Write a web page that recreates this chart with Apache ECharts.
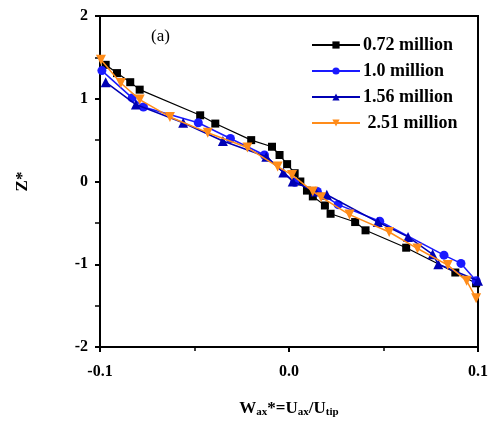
<!DOCTYPE html>
<html><head><meta charset="utf-8">
<script src="https://cdn.jsdelivr.net/npm/echarts@6/dist/echarts.min.js"></script>
<style>html,body{margin:0;padding:0;background:#fff}#c{width:491px;height:423px}</style>
</head><body><div id="c"></div>
<script>
const seriesNames = ['0.72 million', '1.0 million', '1.56 million', ' 2.51 million'];
const s072 = [[-0.097,1.41],[-0.091,1.31],[-0.084,1.20],[-0.079,1.11],[-0.047,0.80],[-0.039,0.70],[-0.020,0.50],[-0.009,0.42],[-0.005,0.32],[-0.001,0.21],[0.003,0.10],[0.006,0.0],[0.0095,-0.11],[0.0126,-0.18],[0.019,-0.29],[0.022,-0.39],[0.035,-0.49],[0.0405,-0.59],[0.062,-0.80],[0.088,-1.10],[0.099,-1.23]];
const s100 = [[-0.099,1.34],[-0.083,1.01],[-0.077,0.90],[-0.048,0.71],[-0.031,0.52],[-0.013,0.32],[0.003,-0.01],[0.015,-0.12],[0.026,-0.28],[0.048,-0.48],[0.082,-0.89],[0.091,-0.99],[0.099,-1.20]];
const s156 = [[-0.097,1.20],[-0.081,0.93],[-0.056,0.71],[-0.035,0.49],[-0.012,0.30],[-0.003,0.11],[0.002,0.0],[0.014,-0.12],[0.020,-0.16],[0.047,-0.49],[0.063,-0.67],[0.076,-0.88],[0.079,-1.0],[0.1,-1.2]];
const s251 = [[-0.0995,1.47],[-0.089,1.19],[-0.079,0.99],[-0.063,0.78],[-0.043,0.59],[-0.022,0.41],[-0.006,0.18],[0.0016,0.08],[0.0126,-0.12],[0.017,-0.19],[0.032,-0.40],[0.053,-0.61],[0.068,-0.81],[0.084,-1.01],[0.094,-1.20],[0.099,-1.41]];
const xTicks = [-0.1, 0.0, 0.1];
const yTicks = [-2, -1, 0, 1, 2];

const font = 'Liberation Serif';
const chart = echarts.init(document.getElementById('c'));
function mk(name, data, color, symbol, size, width, z) {
  return { name, type: 'line', data, symbol, symbolSize: size, z,
    lineStyle: { color, width }, itemStyle: { color }, animation: false };
}
chart.setOption({
  backgroundColor: '#fff',
  animation: false,
  grid: { left: 100, right: 11, top: 16, bottom: 75, show: true, borderColor: '#000', borderWidth: 2 },
  legend: {
    left: 306, top: 31, orient: 'vertical', itemWidth: 48, itemHeight: 9, itemGap: 8,
    textStyle: { fontFamily: font, fontWeight: 'bold', fontSize: 18, color: '#000', padding: [0, 0, 0, -2] },
    data: seriesNames
  },
  graphic: [{ type: 'text', left: 151, top: 28, style: { text: '(a)', font: '17px "Liberation Serif"', fill: '#000' } }],
  xAxis: {
    type: 'value', min: -0.1, max: 0.1, interval: 0.1,
    axisLine: { onZero: false, lineStyle: { color: '#000', width: 2 } },
    axisTick: { length: 5, lineStyle: { width: 2 } },
    minorTick: { show: true, splitNumber: 2, length: 4, lineStyle: { color: '#000', width: 1.5 } },
    splitLine: { show: false },
    axisLabel: { color: '#000', fontFamily: font, fontWeight: 'bold', fontSize: 16, margin: 17,
      formatter: v => { const t = xTicks.find(k => Math.abs(k - v) < 1e-9); return t === undefined ? '' : t.toFixed(1); } },
    name: 'W{s|ax}*=U{s|ax}/U{s|tip}', nameLocation: 'middle', nameGap: 52,
    nameTextStyle: { color: '#000', fontFamily: font, fontWeight: 'bold', fontSize: 17,
      rich: { s: { fontFamily: font, fontWeight: 'bold', fontSize: 11, verticalAlign: 'bottom', padding: [8, 0, 0, 0] } } }
  },
  yAxis: {
    type: 'value', min: -2, max: 2, interval: 1,
    axisLine: { onZero: false, lineStyle: { color: '#000', width: 2 } },
    axisTick: { length: 5, lineStyle: { width: 2 } },
    minorTick: { show: true, splitNumber: 2, length: 5, lineStyle: { color: '#000', width: 1.5 } },
    splitLine: { show: false },
    axisLabel: { color: '#000', fontFamily: font, fontWeight: 'bold', fontSize: 16, margin: 12,
      formatter: v => { const t = yTicks.find(k => Math.abs(k - v) < 1e-9); return t === undefined ? '' : String(t); } },
    name: 'Z*', nameLocation: 'middle', nameGap: 69, nameRotate: 90,
    nameTextStyle: { color: '#000', fontFamily: font, fontWeight: 'bold', fontSize: 17 }
  },
  series: [
    mk(seriesNames[0], s072, '#000000', 'rect', 8, 1.2, 2),
    mk(seriesNames[1], s100, '#1a1aff', 'circle', 9, 1.5, 3),
    mk(seriesNames[2], s156, '#0000b4', 'triangle', 10, 1.5, 4),
    { ...mk(seriesNames[3], s251, '#ff8c1a', 'triangle', 10, 1.5, 5), symbolRotate: 180 }
  ]
});
</script></body></html>
